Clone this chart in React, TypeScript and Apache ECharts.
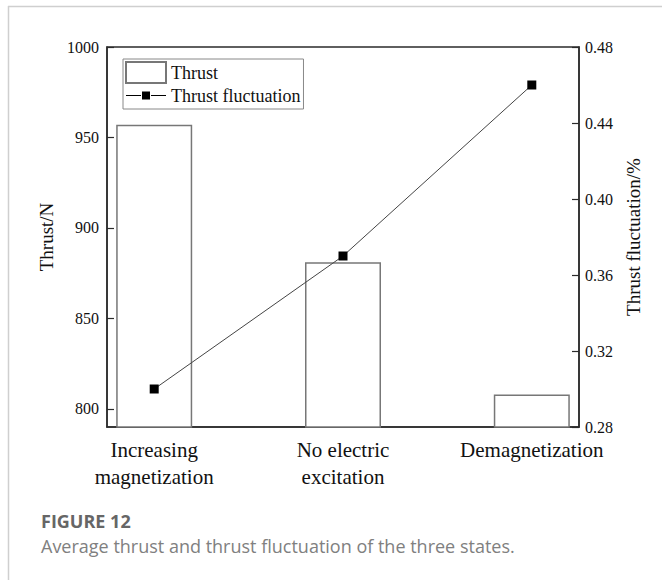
import React, { useEffect, useRef } from 'react';
import * as echarts from 'echarts';

const categories = ['Increasing\nmagnetization', 'No electric\nexcitation', 'Demagnetization'];
const thrust = [957, 881, 808];
const fluctuation = [0.3, 0.37, 0.46];
const thrustTicks = [800, 850, 900, 950, 1000];
const fluctuationTicks = [0.28, 0.32, 0.36, 0.4, 0.44, 0.48];
const captionTitle = 'FIGURE 12';
const captionText = 'Average thrust and thrust fluctuation of the three states.';

const SERIF = 'Liberation Serif';
const AXIS = '#2b2b2b';

export default function App() {
  const ref = useRef<HTMLDivElement>(null);

  useEffect(() => {
    if (!ref.current) return;
    const chart = echarts.init(ref.current, undefined, { renderer: 'svg' });
    const catPos = categories.map((_, i) => i + 1);
    const fInterval = fluctuationTicks[1] - fluctuationTicks[0];

    const option: any = {
      animation: false,
      backgroundColor: '#fff',
      textStyle: { fontFamily: SERIF },
      grid: {
        left: 107,
        right: 83,
        top: 47,
        bottom: 153,
        show: true,
        borderColor: AXIS,
        borderWidth: 1.5,
      },
      legend: {
        left: 123,
        top: 59,
        orient: 'vertical',
        itemWidth: 40,
        itemHeight: 21,
        itemGap: 1,
        padding: [2, 3, 3, 2],
        borderColor: '#888',
        borderWidth: 1,
        textStyle: { fontFamily: SERIF, fontSize: 18, color: '#111', lineHeight: 21 },
        data: [
          { name: 'Thrust', icon: 'rect' },
          {
            name: 'Thrust fluctuation',
            icon: 'path://M0,9.5L15,9.5L15,10.5L0,10.5Z M16,6L24,6L24,14L16,14Z M25,9.5L40,9.5L40,10.5L25,10.5Z',
          },
        ],
      },
      xAxis: {
        type: 'value',
        min: 0.75,
        max: 3.25,
        axisLine: { show: true, lineStyle: { color: AXIS, width: 1.5 } },
        axisTick: { show: false },
        splitLine: { show: false },
        axisLabel: {
          customValues: catPos,
          formatter: (v: number) => categories[Math.round(v) - 1] ?? '',
          fontFamily: SERIF,
          fontSize: 21,
          lineHeight: 27,
          color: '#111',
          margin: 9,
        },
      },
      yAxis: [
        {
          type: 'value',
          min: 790,
          max: 1000,
          name: 'Thrust/N',
          nameLocation: 'middle',
          nameRotate: 90,
          nameGap: 45,
          nameTextStyle: { fontFamily: SERIF, fontSize: 19, color: '#111' },
          axisLine: { show: true, lineStyle: { color: AXIS, width: 1.5 } },
          axisTick: { show: true, inside: true, length: 7, customValues: thrustTicks, lineStyle: { color: AXIS, width: 1.2 } },
          axisLabel: {
            customValues: thrustTicks,
            formatter: (v: number) => String(v),
            fontFamily: SERIF,
            fontSize: 16,
            color: '#111',
            margin: 8,
          },
          splitLine: { show: false },
        },
        {
          type: 'value',
          position: 'right',
          min: fluctuationTicks[0],
          max: fluctuationTicks[fluctuationTicks.length - 1],
          interval: fInterval,
          name: 'Thrust fluctuation/%',
          nameLocation: 'middle',
          nameRotate: 90,
          nameGap: 41,
          nameTextStyle: { fontFamily: SERIF, fontSize: 19, color: '#111' },
          axisLine: { show: true, lineStyle: { color: AXIS, width: 1.5 } },
          axisTick: { show: true, inside: true, length: 7, lineStyle: { color: AXIS, width: 1.2 } },
          axisLabel: {
            formatter: (v: number) => v.toFixed(2),
            fontFamily: SERIF,
            fontSize: 16,
            color: '#111',
            margin: 6,
          },
          splitLine: { show: false },
        },
      ],
      series: [
        {
          name: 'Thrust',
          type: 'bar',
          yAxisIndex: 0,
          barWidth: 76,
          data: catPos.map((x, i) => [x, thrust[i]]),
          itemStyle: { color: '#fff', borderColor: '#777', borderWidth: 1.5 },
        },
        {
          name: 'Thrust fluctuation',
          type: 'line',
          yAxisIndex: 1,
          data: catPos.map((x, i) => [x, fluctuation[i]]),
          symbol: 'rect',
          symbolSize: 9,
          itemStyle: { color: '#000' },
          lineStyle: { color: '#444', width: 1 },
          z: 5,
        },
      ],
      graphic: [
        { type: 'line', shape: { x1: 8, y1: 6.5, x2: 662, y2: 6.5 }, style: { stroke: '#cfcfcf', lineWidth: 1.5 }, silent: true },
        { type: 'line', shape: { x1: 8.5, y1: 6, x2: 8.5, y2: 580 }, style: { stroke: '#cfcfcf', lineWidth: 1.5 }, silent: true },
        {
          type: 'text',
          x: 41,
          y: 521,
          style: { text: captionTitle, fontFamily: 'Open Sans', fontWeight: 'bold', fontSize: 18, fill: '#666', verticalAlign: 'middle' },
        },
        {
          type: 'text',
          x: 41,
          y: 546,
          style: { text: captionText, fontFamily: 'Open Sans', fontSize: 18, fill: '#808080', verticalAlign: 'middle' },
        },
      ],
    };

    chart.setOption(option);
    return () => chart.dispose();
  }, []);

  return <div ref={ref} style={{ position: 'absolute', left: 0, top: 0, width: 662, height: 580 }} />;
}
